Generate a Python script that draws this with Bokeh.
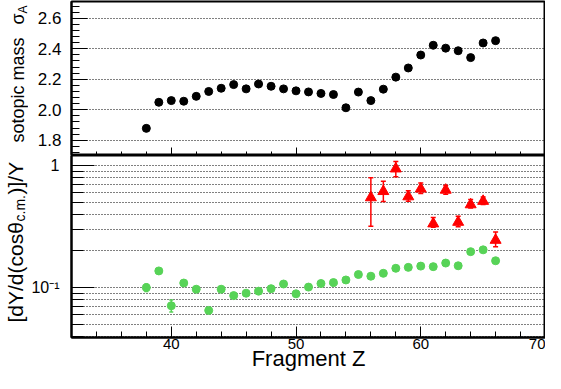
import numpy as np
from bokeh.plotting import figure
from bokeh.models import (Range1d, FixedTicker, ColumnDataSource, Whisker, TeeHead,
                          PrintfTickFormatter)
from bokeh.core.properties import value
from bokeh.layouts import column, row
from bokeh.embed import file_html
from bokeh.resources import INLINE

# ---------------- data ----------------
Z_top = list(range(38, 67))
sigma_A = [1.878, 2.049, 2.060, 2.056, 2.088, 2.120, 2.141, 2.165, 2.137, 2.169,
           2.154, 2.137, 2.124, 2.117, 2.107, 2.100, 2.013, 2.116, 2.060, 2.135,
           2.214, 2.274, 2.359, 2.423, 2.404, 2.387, 2.342, 2.438, 2.453]

Z_green = list(range(38, 67))
yield_green = [0.100, 0.137, 0.071, 0.109, 0.097, 0.065, 0.097, 0.086, 0.090, 0.0935,
               0.098, 0.107, 0.089, 0.101, 0.108, 0.110, 0.1155, 0.128, 0.124, 0.131,
               0.144, 0.1465, 0.150, 0.1485, 0.159, 0.151, 0.197, 0.204, 0.166]
err_green = [0.007, 0.004, 0.008, 0.004, 0.003, 0.003, 0.003, 0.003, 0.003, 0.003,
             0.003, 0.003, 0.003, 0.003, 0.003, 0.003, 0.003, 0.003, 0.003, 0.003,
             0.003, 0.003, 0.003, 0.003, 0.003, 0.003, 0.004, 0.004, 0.004]

Z_red = list(range(56, 67))
yield_red = [0.547, 0.615, 0.942, 0.557, 0.644, 0.334, 0.631, 0.344, 0.479, 0.511, 0.245]
red_lo = [0.318, 0.508, 0.811, 0.511, 0.591, 0.312, 0.583, 0.316, 0.449, 0.479, 0.216]
red_hi = [0.795, 0.744, 1.082, 0.622, 0.720, 0.376, 0.687, 0.385, 0.528, 0.553, 0.285]

x_major = [40, 50, 60, 70]
x_minor = [34, 36, 38, 42, 44, 46, 48, 52, 54, 56, 58, 62, 64, 66, 68]
top_major = [1.8, 2.0, 2.2, 2.4, 2.6]
top_minor = [1.72, 1.76, 1.84, 1.88, 1.92, 1.96, 2.04, 2.08, 2.12, 2.16,
             2.24, 2.28, 2.32, 2.36, 2.44, 2.48, 2.52, 2.56, 2.64, 2.68]
bot_major = [0.1, 1]
bot_minor = [0.04, 0.05, 0.06, 0.07, 0.08, 0.09, 0.2, 0.3, 0.4, 0.5, 0.6, 0.7, 0.8, 0.9]

top_title = ["sotopic mass", "σ", "A"]
bot_title = ["[dY/d(cosθ", "c.m.", ")]/Y"]
x_title = "Fragment Z"

FONT = "Liberation Sans"
GREEN = "#57d357"
RED = "#ff0000"

LW = 28          # width of the strip that holds the rotated y titles
TOTAL_H = 373
PW = 545 - LW
LB = 69 - LW     # left border of the two panels
H1 = 155         # top panel
H2 = TOTAL_H - H1

xr = Range1d(32, 70)

# ---------------- top panel ----------------
p1 = figure(width=PW, height=H1, x_range=xr, y_range=Range1d(1.7, 2.71),
            output_backend="svg", toolbar_location=None, title=None,
            min_border_left=LB, min_border_right=0, min_border_top=1, min_border_bottom=0)
p1.outline_line_color = "black"
p1.outline_line_width = 2

p1.xaxis.ticker = FixedTicker(ticks=x_major, minor_ticks=x_minor)
p1.xaxis.fixed_location = 1.7
p1.xaxis.major_label_overrides = {t: "" for t in x_major}
p1.xaxis.major_tick_in = 8
p1.xaxis.major_tick_out = 0
p1.xaxis.minor_tick_in = 4
p1.xaxis.minor_tick_out = 0
p1.xaxis.major_label_standoff = 0
p1.xaxis.axis_line_width = 2

p1.yaxis.ticker = FixedTicker(ticks=top_major, minor_ticks=top_minor)
p1.yaxis.formatter = PrintfTickFormatter(format="%.1f")
p1.yaxis.major_tick_in = 16
p1.yaxis.major_tick_out = 0
p1.yaxis.minor_tick_in = 8
p1.yaxis.minor_tick_out = 0
p1.yaxis.major_label_text_font = FONT
p1.yaxis.major_label_text_font_size = "17px"
p1.yaxis.major_label_text_color = "black"
p1.yaxis.major_label_standoff = 10
p1.yaxis.axis_line_width = 2

p1.xgrid.visible = False
p1.ygrid.grid_line_color = "black"
p1.ygrid.grid_line_dash = "1 2"
p1.ygrid.grid_line_width = 1

p1.scatter(Z_top, sigma_A, size=8, color="black")

# ---------------- bottom panel ----------------
p2 = figure(width=PW, height=H2, x_range=xr, y_range=Range1d(0.039, 1.21),
            y_axis_type="log", output_backend="svg", toolbar_location=None, title=None,
            min_border_left=LB, min_border_right=0, min_border_top=0, min_border_bottom=0)
p2.outline_line_color = "black"
p2.outline_line_width = 2

p2.xaxis.ticker = FixedTicker(ticks=x_major, minor_ticks=x_minor)
p2.xaxis.major_tick_in = 11
p2.xaxis.major_tick_out = 0
p2.xaxis.minor_tick_in = 6
p2.xaxis.minor_tick_out = 0
p2.xaxis.major_label_text_font = FONT
p2.xaxis.major_label_text_font_size = "15px"
p2.xaxis.major_label_text_color = "black"
p2.xaxis.major_label_standoff = 1
p2.xaxis.axis_line_width = 2
p2.xaxis.axis_label = x_title
p2.xaxis.axis_label_text_font = FONT
p2.xaxis.axis_label_text_font_size = "22px"
p2.xaxis.axis_label_text_font_style = "normal"
p2.xaxis.axis_label_text_color = "black"
p2.xaxis.axis_label_standoff = -6

p2.yaxis.ticker = FixedTicker(ticks=bot_major, minor_ticks=bot_minor)
p2.yaxis.major_label_overrides = {0.1: "10\u207b\u00b9", 1: "1"}
p2.yaxis.major_tick_in = 23
p2.yaxis.major_tick_out = 0
p2.yaxis.minor_tick_in = 12
p2.yaxis.minor_tick_out = 0
p2.yaxis.major_label_text_font = FONT
p2.yaxis.major_label_text_font_size = "16px"
p2.yaxis.major_label_text_color = "black"
p2.yaxis.major_label_standoff = 12
p2.yaxis.axis_line_width = 2

p2.xgrid.visible = False
p2.ygrid.grid_line_color = "black"
p2.ygrid.grid_line_dash = "1 2"
p2.ygrid.grid_line_width = 1
p2.ygrid.minor_grid_line_color = "black"
p2.ygrid.minor_grid_line_dash = "1 2"
p2.ygrid.minor_grid_line_width = 1

g_src = ColumnDataSource(dict(z=Z_green, y=yield_green,
                              lo=[a - b for a, b in zip(yield_green, err_green)],
                              hi=[a + b for a, b in zip(yield_green, err_green)]))
r_src = ColumnDataSource(dict(z=Z_red, y=yield_red, lo=red_lo, hi=red_hi))

p2.add_layout(Whisker(source=g_src, base="z", lower="lo", upper="hi", dimension="height",
                      line_color=GREEN, line_width=1.5,
                      upper_head=TeeHead(size=4, line_color=GREEN, line_width=1.5),
                      lower_head=TeeHead(size=4, line_color=GREEN, line_width=1.5)))
p2.add_layout(Whisker(source=r_src, base="z", lower="lo", upper="hi", dimension="height",
                      line_color=RED, line_width=1.5,
                      upper_head=TeeHead(size=5, line_color=RED, line_width=1.5),
                      lower_head=TeeHead(size=5, line_color=RED, line_width=1.5)))

p2.scatter("z", "y", source=g_src, size=8, color=GREEN)
p2.scatter("z", "y", source=r_src, marker="triangle", size=11, color=RED)

# ---------------- strip with rotated y titles (pixel coordinates) ----------------
pl = figure(width=LW, height=TOTAL_H, x_range=Range1d(0, LW), y_range=Range1d(0, TOTAL_H),
            output_backend="svg", toolbar_location=None, title=None,
            x_axis_location=None, y_axis_location=None, min_border=0)
pl.grid.visible = False
pl.outline_line_color = None

# positions in strip pixels (x from left, y from bottom)
pl.text(x=[17], y=[231], text=[top_title[0]], angle=np.pi / 2, text_font=value(FONT),
        text_font_size="18px", text_align="left", text_baseline="alphabetic", text_color="black")
pl.text(x=[17], y=[349], text=[top_title[1]], angle=np.pi / 2, text_font=value(FONT),
        text_font_size="18px", text_align="left", text_baseline="alphabetic", text_color="black")
pl.text(x=[22], y=[360], text=[top_title[2]], angle=np.pi / 2, text_font=value(FONT),
        text_font_size="12px", text_align="left", text_baseline="alphabetic", text_color="black")

pl.text(x=[15], y=[51], text=[bot_title[0]], angle=np.pi / 2, text_font=value(FONT),
        text_font_size="21px", text_align="left", text_baseline="alphabetic", text_color="black")
pl.text(x=[19], y=[152], text=[bot_title[1]], angle=np.pi / 2, text_font=value(FONT),
        text_font_size="14px", text_align="left", text_baseline="alphabetic", text_color="black")
pl.text(x=[15], y=[179], text=[bot_title[2]], angle=np.pi / 2, text_font=value(FONT),
        text_font_size="21px", text_align="left", text_baseline="alphabetic", text_color="black")

layout = row(pl, column(p1, p2, spacing=0), spacing=0)
open("out.html", "w").write(file_html(layout, INLINE))
